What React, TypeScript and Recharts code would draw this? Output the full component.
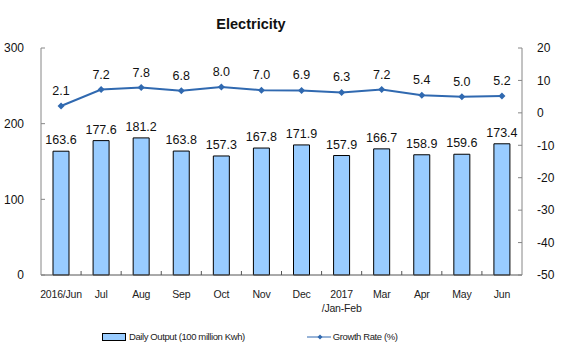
import { Bar, ComposedChart, LabelList, Legend, Line, XAxis, YAxis } from "recharts";

const months = ["2016/Jun", "Jul", "Aug", "Sep", "Oct", "Nov", "Dec", "2017\n/Jan-Feb", "Mar", "Apr", "May", "Jun"];
const dailyOutput = [163.6, 177.6, 181.2, 163.8, 157.3, 167.8, 171.9, 157.9, 166.7, 158.9, 159.6, 173.4];
const growthRate = [2.1, 7.2, 7.8, 6.8, 8.0, 7.0, 6.9, 6.3, 7.2, 5.4, 5.0, 5.2];
const outputTicks = [0, 100, 200, 300];
const rateTicks = [-50, -40, -30, -20, -10, 0, 10, 20];

const font = "'Liberation Sans', Arial, sans-serif";
const lineBlue = "#3069b0";
const barBlue = "#99ccff";

const chartData = months.map((month, i) => ({
  month,
  output: dailyOutput[i],
  rate: growthRate[i],
}));

// month label plus the small divider tick on the right edge of the category band
function MonthTick({ x, y, payload, index }: any) {
  const lines = String(payload.value).split("\n");
  const edge = x + (payload.offset ?? 0);
  return (
    <g>
      {index < months.length - 1 && <line x1={edge} x2={edge} y1={y} y2={y - 4} stroke="#555" />}
      <text x={x} y={y + 23} textAnchor="middle" fontSize={10.5} fontFamily={font} fill="#222" letterSpacing={-0.2}>
        {lines.map((line, i) => (
          <tspan key={i} x={x} dy={i === 0 ? 0 : 14}>
            {line}
          </tspan>
        ))}
      </text>
    </g>
  );
}

function Diamond({ cx, cy }: any) {
  if (cx == null || cy == null) return null;
  return <polygon points={`${cx},${cy - 3.5} ${cx + 3.5},${cy} ${cx},${cy + 3.5} ${cx - 3.5},${cy}`} fill={lineBlue} />;
}

function ChartLegend() {
  return (
    <div style={{ display: "flex", fontFamily: font, fontSize: 9.5, letterSpacing: -0.4, color: "#222", alignItems: "center" }}>
      <div style={{ display: "flex", alignItems: "center", marginLeft: 102 }}>
        <span style={{ width: 22, height: 6, background: barBlue, border: "1px solid #000", display: "inline-block" }} />
        <span style={{ marginLeft: 3 }}>Daily Output (100 million Kwh)</span>
      </div>
      <div style={{ display: "flex", alignItems: "center", marginLeft: 62 }}>
        <svg width={24} height={8}>
          <line x1={0} y1={4} x2={24} y2={4} stroke={lineBlue} strokeWidth={1} />
          <polygon points="13,1.5 15.5,4 13,6.5 10.5,4" fill={lineBlue} />
        </svg>
        <span style={{ marginLeft: 2 }}>Growth Rate (%)</span>
      </div>
    </div>
  );
}

export default function App() {
  return (
    <div style={{ position: "absolute", left: 0, top: 0, width: 565, height: 352, background: "#fff" }}>
      <div
        style={{
          position: "absolute",
          left: 151,
          width: 200,
          top: 16,
          textAlign: "center",
          fontFamily: font,
          fontWeight: "bold",
          fontSize: 14.5,
          color: "#111",
        }}
      >
        Electricity
      </div>
      <ComposedChart width={565} height={352} data={chartData} margin={{ top: 48, right: 0, bottom: 0, left: 1 }}>
        <XAxis
          dataKey="month"
          interval={0}
          tickLine={false}
          tickSize={0}
          tickMargin={0}
          axisLine={{ stroke: "#555" }}
          tick={<MonthTick />}
          height={77}
        />
        <YAxis
          yAxisId="left"
          domain={[0, 300]}
          ticks={outputTicks}
          width={40}
          tickSize={-4}
          tickMargin={21}
          axisLine={{ stroke: "#868686" }}
          tickLine={{ stroke: "#868686" }}
          tick={{ fill: "#111", fontSize: 12, fontFamily: font }}
        />
        <YAxis
          yAxisId="right"
          orientation="right"
          domain={[-50, 20]}
          ticks={rateTicks}
          width={43}
          tickSize={-4}
          tickMargin={19}
          axisLine={{ stroke: "#868686" }}
          tickLine={{ stroke: "#868686" }}
          tick={{ fill: "#111", fontSize: 12, fontFamily: font }}
        />
        <Bar yAxisId="left" dataKey="output" barSize={16} fill={barBlue} stroke="#000" strokeWidth={1} isAnimationActive={false}>
          <LabelList dataKey="output" position="top" offset={7} fill="#111" fontSize={12.5} fontFamily={font} formatter={(v: any) => Number(v).toFixed(1)} />
        </Bar>
        <Line
          yAxisId="right"
          dataKey="rate"
          stroke={lineBlue}
          strokeWidth={2}
          dot={<Diamond />}
          activeDot={false}
          isAnimationActive={false}
        >
          <LabelList dataKey="rate" position="top" offset={11} fill="#111" fontSize={12.5} fontFamily={font} formatter={(v: any) => Number(v).toFixed(1)} />
        </Line>
        <Legend verticalAlign="middle" wrapperStyle={{ top: 331, left: 0, width: 565 }} content={() => <ChartLegend />} />
      </ComposedChart>
    </div>
  );
}
